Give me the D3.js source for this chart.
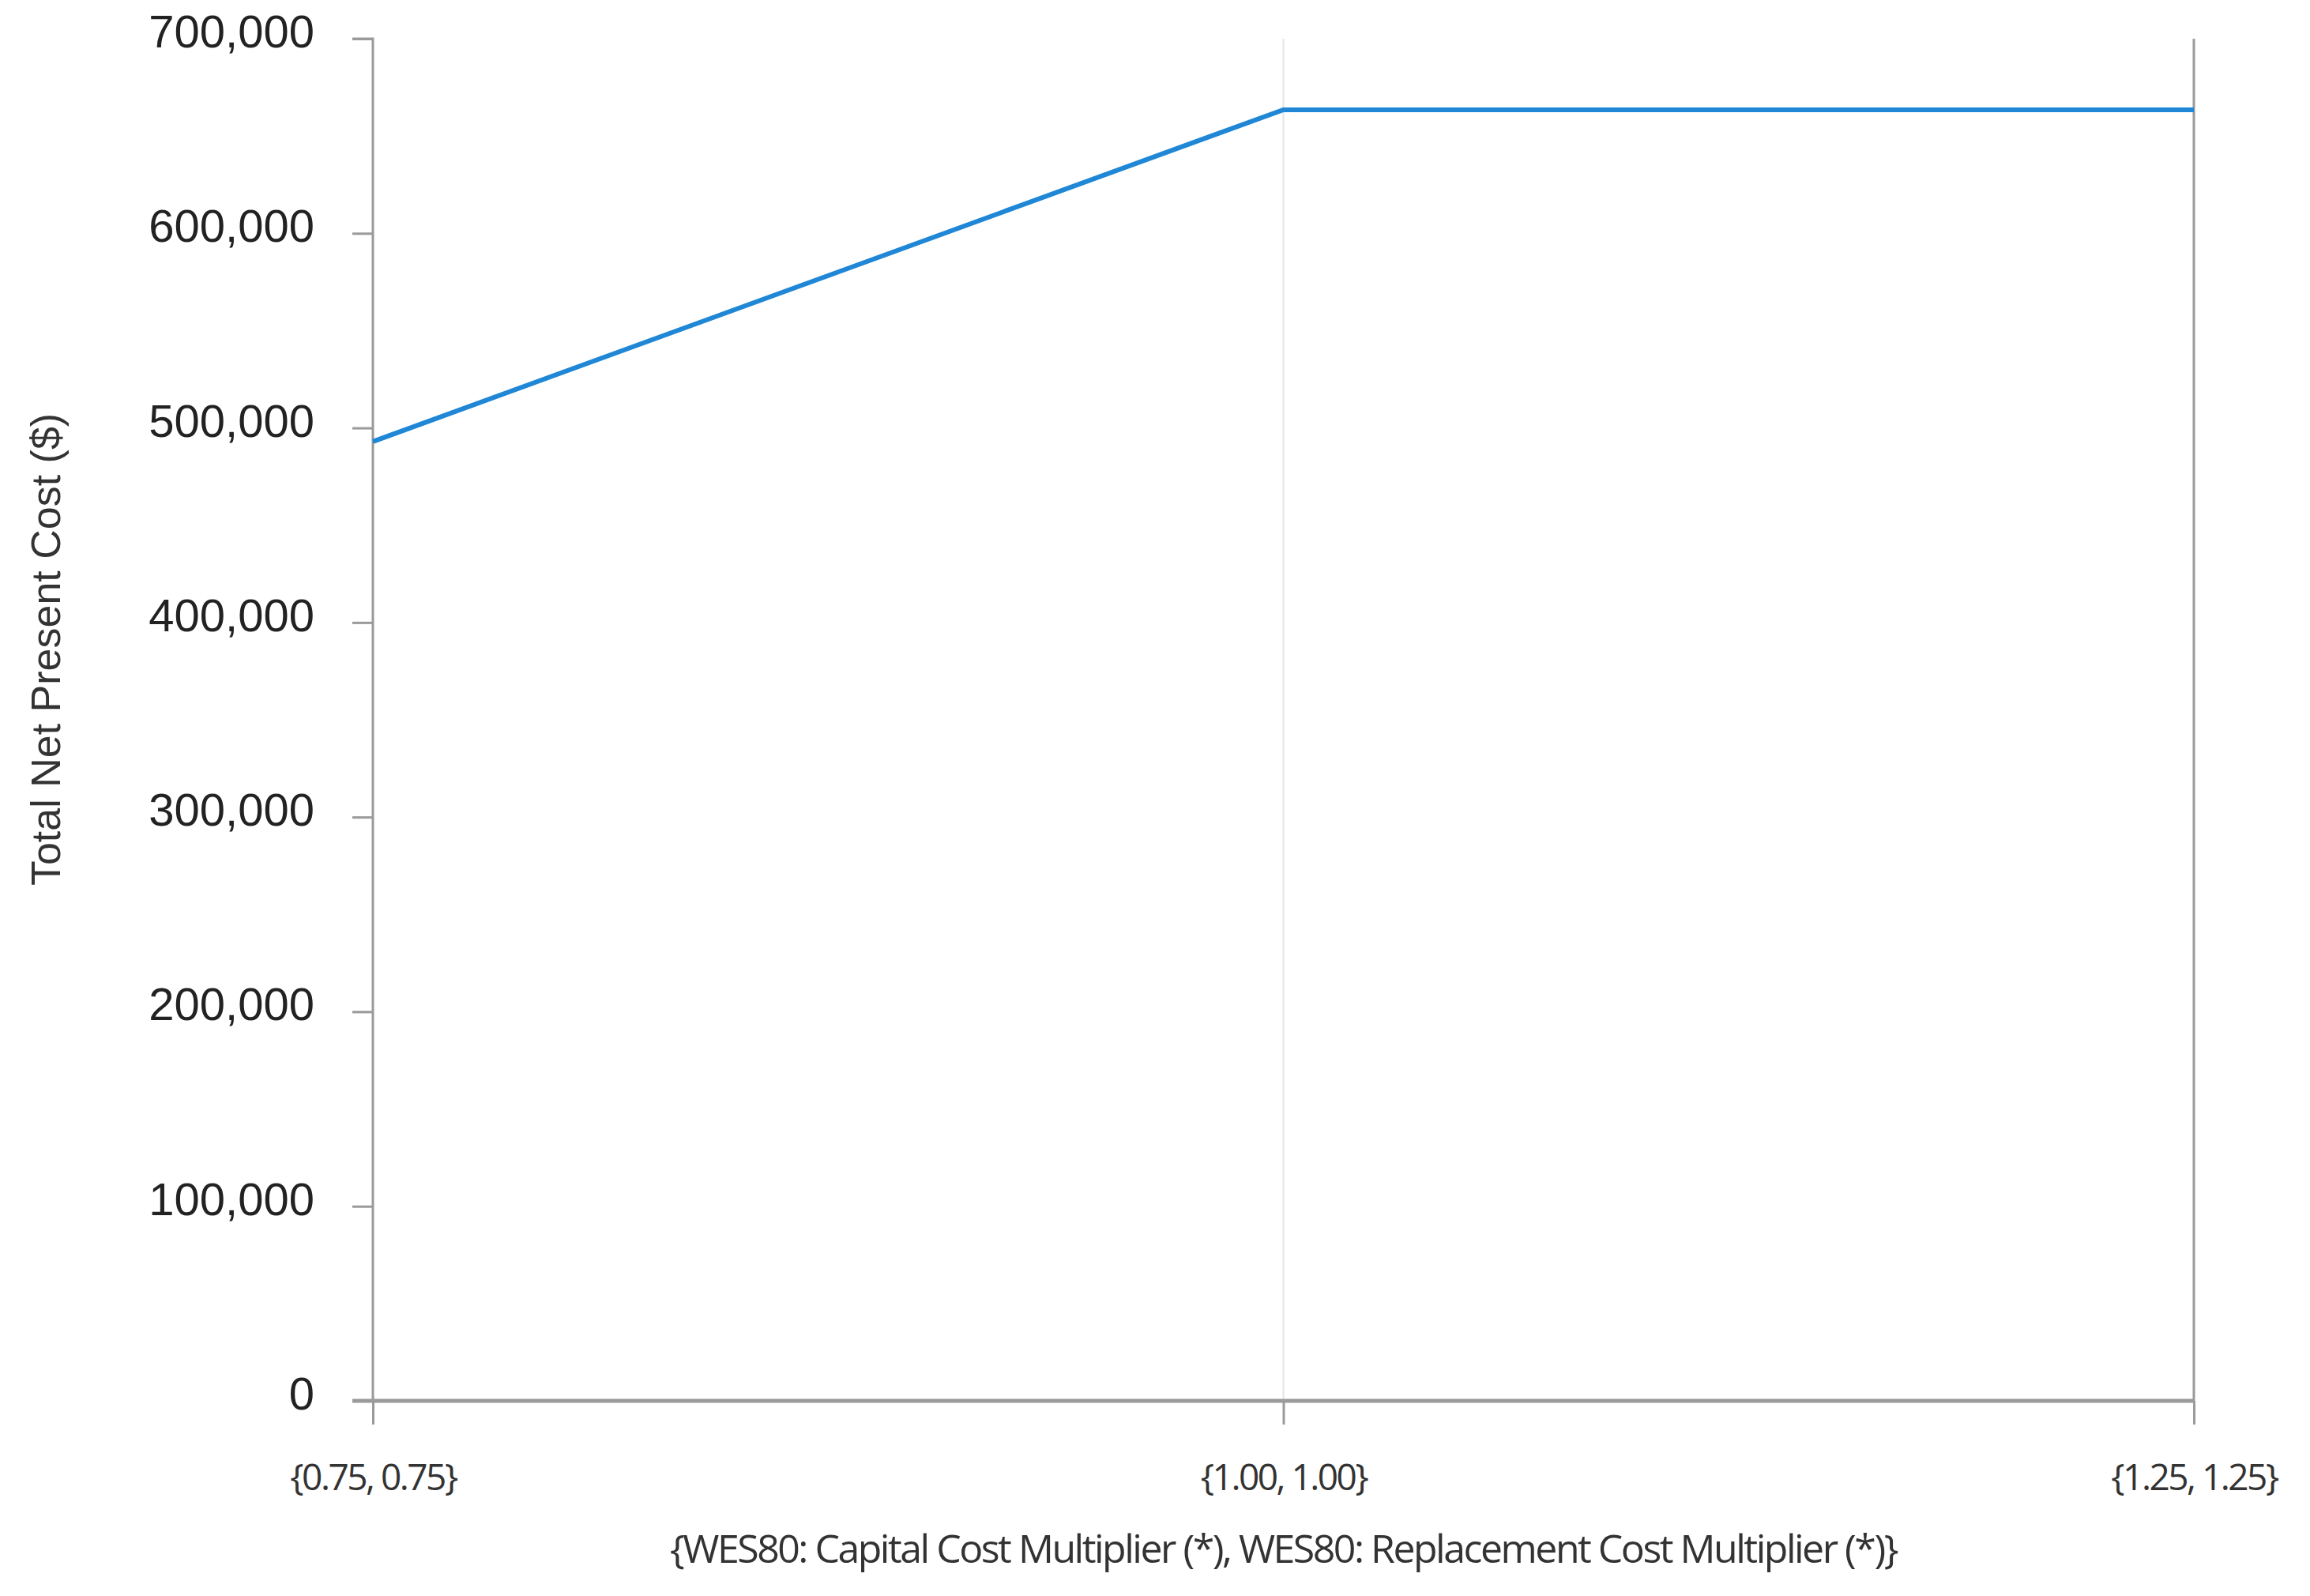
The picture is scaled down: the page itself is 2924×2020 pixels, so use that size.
<!DOCTYPE html>
<html><head><meta charset="utf-8">
<script src="https://cdn.jsdelivr.net/npm/d3@7/dist/d3.min.js"></script>
<style>body{margin:0;background:#fff}</style></head>
<body><svg id="c" width="2924" height="2020"></svg>
<script>
const categories = ["{0.75, 0.75}", "{1.00, 1.00}", "{1.25, 1.25}"];
const values = [493000, 663500, 663500];
const yTicks = [0, 100000, 200000, 300000, 400000, 500000, 600000, 700000];
const yTitle = "Total Net Present Cost ($)";
const xTitle = "{WES80: Capital Cost Multiplier (*), WES80: Replacement Cost Multiplier (*)}";

const svg = d3.select("#c");
const x = d3.scalePoint().domain(categories).range([472, 2777]);
const y = d3.scaleLinear().domain([0, 700000]).range([1773, 49]);
const grey = "#9a9a9a";

svg.append("line").attr("x1", x(categories[1])).attr("x2", x(categories[1]))
  .attr("y1", y(700000)).attr("y2", y(0)).attr("stroke", "#e4e4e4").attr("stroke-width", 2);
svg.append("line").attr("x1", x(categories[2])).attr("x2", x(categories[2]))
  .attr("y1", y(700000)).attr("y2", y(0)).attr("stroke", grey).attr("stroke-width", 3);

const ya = svg.append("g").attr("transform", "translate(472,0)")
  .call(d3.axisLeft(y).tickValues(yTicks).tickSize(26).tickPadding(48).tickFormat(d3.format(",")));
ya.selectAll("path,line").attr("stroke", grey).attr("stroke-width", 3);
ya.select(".domain").attr("d", `M-26,${y(700000)}H0V${y(0)}`);
ya.selectAll("text").attr("font-family", "Liberation Sans, Arial, sans-serif").attr("font-size", 58)
  .attr("fill", "#222").attr("dy", "0.18em");

const xa = svg.append("g").attr("transform", `translate(0,${y(0)})`)
  .call(d3.axisBottom(x).tickSize(30).tickPadding(50));
xa.selectAll("path,line").attr("stroke", grey).attr("stroke-width", 3);
xa.select(".domain").attr("d", `M${472 - 26},0H${x(categories[2])}`).attr("stroke-width", 5);
xa.selectAll("text").attr("font-family", "Open Sans, sans-serif").attr("font-size", 46)
  .attr("fill", "#333").attr("letter-spacing", -2.5);

svg.append("path").datum(values.map((v, i) => [categories[i], v]))
  .attr("fill", "none").attr("stroke", "#1f87d6").attr("stroke-width", 6)
  .attr("d", d3.line().x(d => x(d[0])).y(d => y(d[1])));

svg.append("text").attr("x", (472 + 2777) / 2).attr("y", 1978).attr("text-anchor", "middle")
  .attr("letter-spacing", -2.5)
  .attr("font-family", "Open Sans, sans-serif").attr("font-size", 50).attr("fill", "#333").text(xTitle);
svg.append("text").attr("transform", "translate(76,822) rotate(-90)").attr("text-anchor", "middle")
  .attr("font-family", "Liberation Sans, Arial, sans-serif").attr("font-size", 52).attr("fill", "#333").text(yTitle);
</script></body></html>
